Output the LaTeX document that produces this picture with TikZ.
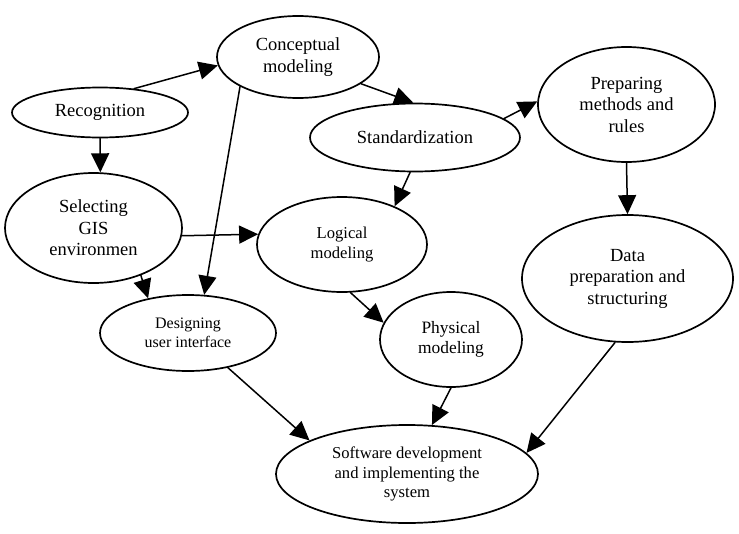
\documentclass[tikz,border=0pt]{standalone}
\usepackage{fontspec}
\setmainfont{Liberation Serif}
\usetikzlibrary{shapes.geometric,arrows.meta}

\tikzset{
  stage/.style={ellipse, draw, line width=1.7pt, inner sep=0pt, align=center,
    font=\fontsize{18.5}{21.5}\selectfont},
  link/.style={line width=1.5pt, -{Triangle[length=19pt,width=18pt]}},
}

\begin{document}
\begin{tikzpicture}[x=1pt,y=-1pt,line cap=round,line join=round]

\path[use as bounding box] (0,0) rectangle (739,533);

% stages
\node[stage, minimum width=176pt, minimum height=50pt] (rec) at (100,112.5) {Recognition};
\node[stage, minimum width=162pt, minimum height=82pt] (con) at (298,57) {Conceptual\\modeling};
\node[stage, minimum width=210pt, minimum height=68pt] (std) at (415,137.5) {Standardization};
\node[stage, minimum width=177pt, minimum height=115pt] (prep) at (626.5,104.5) {Preparing\\methods and\\rules};
\node[stage, minimum width=177pt, minimum height=110pt] (sel) at (93.5,228) {Selecting\\GIS\\environmen};
\node[stage, minimum width=170pt, minimum height=95pt, font=\fontsize{16.6}{20}\selectfont] (log) at (342,244.5) {Logical\\modeling};
\node[stage, minimum width=211pt, minimum height=127pt] (data) at (627.5,278.5) {Data\\preparation and\\structuring};
\node[stage, minimum width=176pt, minimum height=76pt, font=\fontsize{16}{19.3}\selectfont] (des) at (188,333) {Designing\\user interface};
\node[stage, minimum width=142pt, minimum height=95pt, font=\fontsize{17.4}{20}\selectfont] (phy) at (451,339.5) {Physical\\modeling};
\node[stage, minimum width=262pt, minimum height=98pt, font=\fontsize{16.6}{19.5}\selectfont] (soft) at (407,474) {Software development\\and implementing the\\system};

% flow
\draw[link] (rec.35) -- (con.186);
\draw[link] (rec.south) -- (sel.83);
\draw[link] (con.-23) -- (std.93);
\draw[link] (con.207) -- (des.67);
\draw[link] (std.12) -- (prep.178);
\draw[link] (std.262) -- (log.36);
\draw[link] (sel.-5) -- (log.173);
\draw[link] (sel.-45) -- (des.139);
\draw[link] (prep.south) -- (data.north);
\draw[link] (log.-80) -- (phy.166);
\draw[link] (des.-41) -- (soft.161);
\draw[link] (phy.south) -- (soft.63);
\draw[link] (data.259) -- (soft.10);

\end{tikzpicture}
\end{document}
